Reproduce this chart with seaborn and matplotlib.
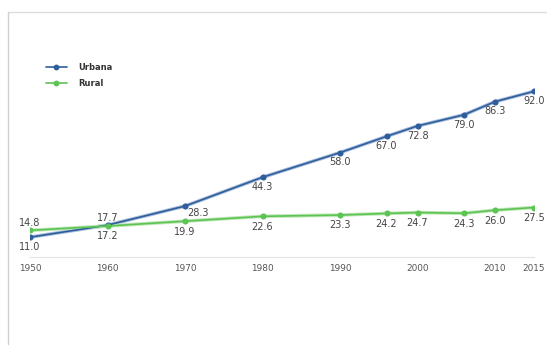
import matplotlib
matplotlib.use("Agg")
import matplotlib.pyplot as plt
from matplotlib.lines import Line2D
import seaborn as sns
import pandas as pd

# Population share by year (%)
anos = [1950, 1960, 1970, 1980, 1990, 1996, 2000, 2006, 2010, 2015]
urbana = [11.0, 17.7, 28.3, 44.3, 58.0, 67.0, 72.8, 79.0, 86.3, 92.0]
rural = [14.8, 17.2, 19.9, 22.6, 23.3, 24.2, 24.7, 24.3, 26.0, 27.5]
series = ["Urbana", "Rural"]
ticks = [1950, 1960, 1970, 1980, 1990, 2000, 2010, 2015]

cores = {"Urbana": "#2f5e9c", "Rural": "#5cc453"}
halo = {"Urbana": "#a9bedb", "Rural": "#bfe7b8"}

df = pd.DataFrame({
    "ano": anos * 2,
    "valor": urbana + rural,
    "serie": [series[0]] * len(anos) + [series[1]] * len(anos),
})

sns.set_theme(style="white")
plt.rcParams["font.family"] = ["DejaVu Sans"]

fig = plt.figure(figsize=(5.47, 3.45), dpi=100)
ax = fig.add_axes([30 / 547, 1 - 257 / 345, (533.75 - 30) / 547, 180 / 345])

# soft underlay, then the main lines with markers
sns.lineplot(data=df, x="ano", y="valor", hue="serie", palette=halo,
             linewidth=2.6, legend=False, ax=ax, zorder=2)
sns.lineplot(data=df, x="ano", y="valor", hue="serie", palette=cores,
             marker="o", markersize=4.4, markeredgewidth=0, linewidth=1.2,
             legend=False, ax=ax, zorder=3)

ax.set_xlim(1950, 2015)
ax.set_ylim(0, 100)
ax.set_xticks(ticks)
ax.set_xticklabels([str(t) for t in ticks], fontsize=6.4, color="#555555")
ax.set_yticks([])
ax.set_xlabel("")
ax.set_ylabel("")
for side in ["top", "right", "left"]:
    ax.spines[side].set_visible(False)
ax.spines["bottom"].set_color("#e2e2e2")
ax.spines["bottom"].set_linewidth(0.8)
ax.tick_params(axis="x", length=0, pad=5)
ax.patch.set_alpha(0)

# value labels
urb_off = {1950: (0, -7), 1960: (0, 5), 1970: (9, -5)}
rur_off = {1950: (0, 5)}
for x, v in zip(anos, urbana):
    dx, dy = urb_off.get(x, (0, -7))
    ax.annotate(f"{v:.1f}", (x, v), xytext=(dx, dy), textcoords="offset points",
                ha="center", va="center", fontsize=7.0, color="#444444")
for x, v in zip(anos, rural):
    dx, dy = rur_off.get(x, (0, -7.5))
    ax.annotate(f"{v:.1f}", (x, v), xytext=(dx, dy), textcoords="offset points",
                ha="center", va="center", fontsize=7.0, color="#444444")

# legend
handles = [Line2D([0], [0], color=cores[s], marker="o", markersize=4.2,
                  markeredgewidth=0, linewidth=1.2) for s in series]
leg = fig.legend(handles, series, loc="upper left", bbox_to_anchor=(38 / 547, 1 - 55 / 345),
                 frameon=False, handlelength=2.6, handletextpad=1.3, labelspacing=0.85,
                 prop={"size": 6.0, "weight": "bold"})
for t in leg.get_texts():
    t.set_color("#333333")

# outer frame
fig.add_artist(Line2D([8 / 547, 1], [1 - 12 / 345, 1 - 12 / 345], transform=fig.transFigure,
                      color="#dcdcdc", linewidth=1.0))
fig.add_artist(Line2D([8 / 547, 8 / 547], [0, 1 - 12 / 345], transform=fig.transFigure,
                      color="#cfcfcf", linewidth=1.0))

fig.savefig("out.png", dpi=100, facecolor="white")
